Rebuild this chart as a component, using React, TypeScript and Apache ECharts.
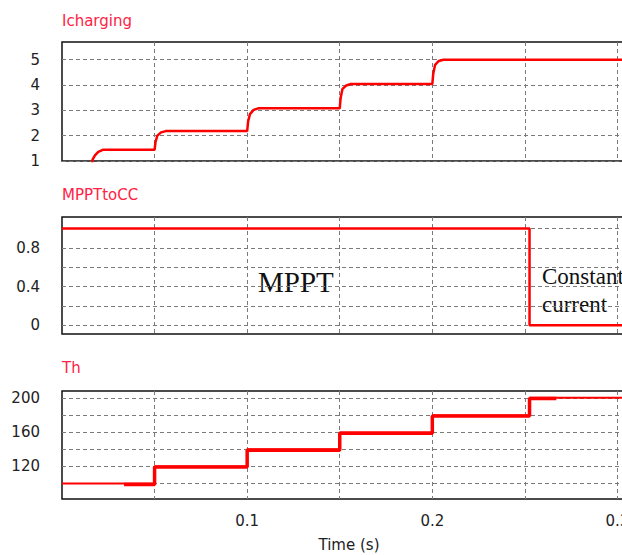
import React, { useEffect, useRef } from "react";
import * as echarts from "echarts";

// ---- data ----
const xGridValues = [0.05, 0.1, 0.15, 0.2, 0.25, 0.3];
const xTickLabels = [0.1, 0.2, 0.3];

const panelTitles = ["Icharging", "MPPTtoCC", "Th"];

// Icharging (A) vs time (s)
const iTime = [0, 0.0155, 0.0165, 0.0178, 0.0196, 0.022, 0.05, 0.0505, 0.0515, 0.0535, 0.056, 0.1, 0.1005, 0.1015, 0.1035, 0.106, 0.15, 0.1505, 0.1515, 0.1535, 0.156, 0.2, 0.2005, 0.2015, 0.2035, 0.206, 0.31];
const iVal = [0, 0, 1.05, 1.22, 1.36, 1.44, 1.44, 1.75, 2.0, 2.13, 2.18, 2.18, 2.55, 2.85, 3.02, 3.08, 3.08, 3.5, 3.85, 3.98, 4.04, 4.04, 4.45, 4.8, 4.95, 5.0, 5.0];
const iGridValues = [1, 2, 3, 4, 5];
const iTickLabels = [1, 2, 3, 4, 5];

// MPPTtoCC flag
const mTime = [0, 0.2525, 0.2525, 0.31];
const mVal = [1, 1, 0, 0];
const mGridValues = [0, 0.2, 0.4, 0.6, 0.8, 1.0];
const mTickLabels = [0, 0.4, 0.8];

// Th
const thTime = [0, 0.05, 0.05, 0.1, 0.1, 0.15, 0.15, 0.2, 0.2, 0.2525, 0.2525, 0.31];
const thVal = [100, 100, 120, 120, 140, 140, 159.5, 159.5, 179.5, 179.5, 200, 200];
const thBandTime = [0.0335, 0.05, 0.05, 0.1, 0.1, 0.15, 0.15, 0.2, 0.2, 0.2525, 0.2525, 0.267];
const thBandVal = [98.8, 98.8, 119.2, 119.2, 139, 139, 158.8, 158.8, 178.8, 178.8, 199.3, 199.3];
const thGridValues = [100, 120, 140, 160, 180, 200];
const thTickLabels = [120, 160, 200];

const zip = (a: number[], b: number[]) => a.map((v, i) => [v, b[i]]);

const FONT = "DejaVu Sans";
const RED = "#ff0000";
const TITLE_RED = "#ff2244";
const GRID_LINE = { color: "#7a7a7a", type: [4, 3] as number[], width: 1 };

export default function App() {
  const ref = useRef<HTMLDivElement>(null);

  useEffect(() => {
    if (!ref.current) return;
    const chart = echarts.init(ref.current, null, { renderer: "svg" });

    const gridBoxes = [
      { left: 62, width: 574, top: 42, height: 119 },
      { left: 62, width: 574, top: 217, height: 117 },
      { left: 62, width: 574, top: 391, height: 108 },
    ];
    const titleTops = [13, 187, 360];

    const yCfg = [
      { min: 1, max: 5.7, grid: iGridValues, labels: iTickLabels },
      { min: -0.09, max: 1.12, grid: mGridValues, labels: mTickLabels },
      { min: 82, max: 208, grid: thGridValues, labels: thTickLabels },
    ];

    const labelStyle = { fontFamily: FONT, fontSize: 15, color: "#222" };

    const option: any = {
      animation: false,
      backgroundColor: "#ffffff",
      title: panelTitles.map((t, i) => ({
        text: t,
        left: 62,
        top: titleTops[i],
        padding: 0,
        textStyle: { color: TITLE_RED, fontFamily: FONT, fontSize: 15, fontWeight: "normal" },
      })),
      grid: gridBoxes.map((g) => ({
        ...g,
        show: true,
        borderColor: "#111",
        borderWidth: 1.5,
        backgroundColor: "transparent",
        containLabel: false,
      })),
      xAxis: gridBoxes.map((_, i) => ({
        type: "value",
        gridIndex: i,
        min: 0,
        max: 0.31,
        axisLine: { show: false },
        axisTick: { show: false, customValues: xGridValues },
        splitLine: { show: true, lineStyle: GRID_LINE },
        axisLabel: {
          show: i === 2,
          customValues: xTickLabels,
          formatter: (v: number) => String(v),
          margin: 14,
          ...labelStyle,
        },
        name: i === 2 ? "Time (s)" : "",
        nameLocation: "middle",
        nameGap: 38,
        nameTextStyle: { ...labelStyle },
      })),
      yAxis: yCfg.map((c, i) => ({
        type: "value",
        gridIndex: i,
        min: c.min,
        max: c.max,
        axisLine: { show: false },
        axisTick: { show: false, customValues: c.grid },
        splitLine: { show: true, lineStyle: GRID_LINE },
        axisLabel: {
          customValues: c.labels,
          formatter: (v: number) => String(v),
          margin: 22,
          ...labelStyle,
        },
      })),
      series: [
        {
          type: "line",
          xAxisIndex: 0,
          yAxisIndex: 0,
          data: zip(iTime, iVal),
          showSymbol: false,
          symbol: "none",
          clip: true,
          lineStyle: { color: RED, width: 2.5 },
        },
        {
          type: "line",
          xAxisIndex: 1,
          yAxisIndex: 1,
          data: zip(mTime, mVal),
          showSymbol: false,
          symbol: "none",
          clip: true,
          lineStyle: { color: RED, width: 2.5 },
        },
        {
          type: "line",
          xAxisIndex: 2,
          yAxisIndex: 2,
          data: zip(thTime, thVal),
          showSymbol: false,
          symbol: "none",
          clip: true,
          lineStyle: { color: RED, width: 2 },
        },
        {
          type: "line",
          xAxisIndex: 2,
          yAxisIndex: 2,
          data: zip(thBandTime, thBandVal),
          showSymbol: false,
          symbol: "none",
          clip: true,
          lineStyle: { color: RED, width: 3.5 },
        },
      ],
      graphic: [
        {
          type: "text",
          x: 258,
          y: 282,
          style: { text: "MPPT", fontFamily: "Liberation Serif", fontSize: 29, fill: "#111", align: "left", verticalAlign: "middle" },
        },
        {
          type: "text",
          x: 542,
          y: 276.5,
          style: { text: "Constant", fontFamily: "Liberation Serif", fontSize: 23, fill: "#111", align: "left", verticalAlign: "middle" },
        },
        {
          type: "text",
          x: 542,
          y: 304,
          style: { text: "current", fontFamily: "Liberation Serif", fontSize: 23, fill: "#111", align: "left", verticalAlign: "middle" },
        },
      ],
    };

    chart.setOption(option);
    return () => chart.dispose();
  }, []);

  return (
    <div
      style={{ position: "fixed", left: 0, top: 0, width: 622, height: 555, overflow: "hidden", background: "#fff" }}
    >
      <div ref={ref} style={{ width: 660, height: 555 }} />
    </div>
  );
}
